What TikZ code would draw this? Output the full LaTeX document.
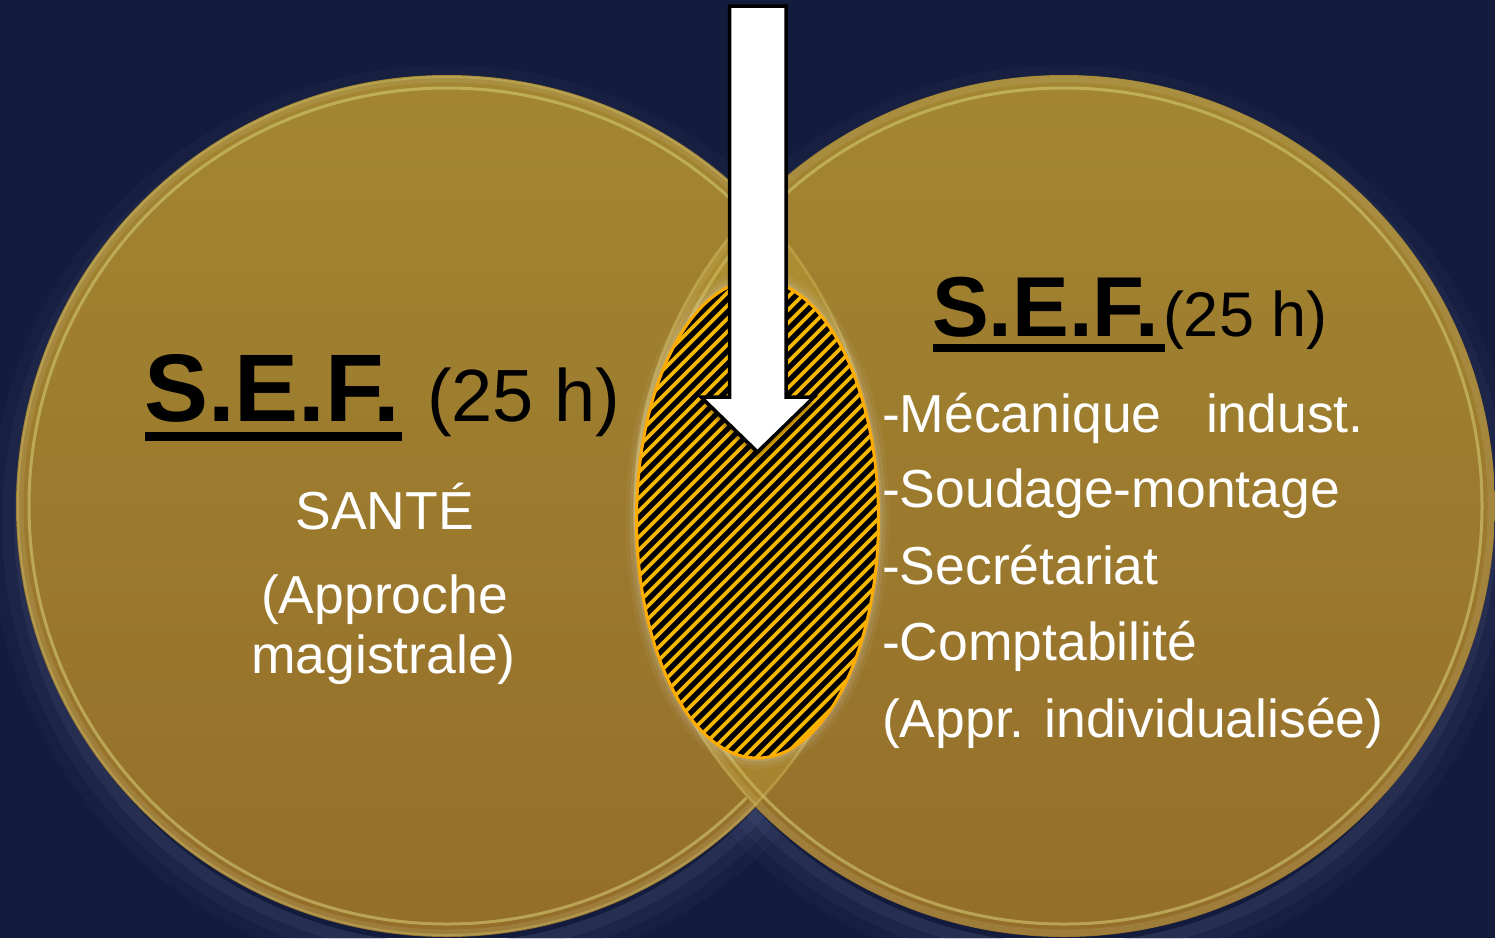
\documentclass[tikz,border=0pt]{standalone}
\usepackage{fontspec}
\setmainfont{Liberation Sans}
\usetikzlibrary{calc}
\definecolor{navy}{RGB}{19,28,60}
\definecolor{goldtop}{RGB}{163,134,49}
\definecolor{goldbot}{RGB}{148,110,42}
\definecolor{rimhi}{RGB}{210,200,115}
\definecolor{halo}{RGB}{85,98,140}
\definecolor{stripe}{RGB}{245,182,0}
\definecolor{ellrim}{RGB}{255,172,0}
\definecolor{lens}{RGB}{205,170,60}
\tikzset{
  lbl/.style={inner sep=0pt, outer sep=0pt},
  wtxt/.style={lbl, text=white, font=\fontsize{53.5}{60}\selectfont},
  btxt/.style={lbl, text=black},
  disc/.style={top color=goldtop, bottom color=goldbot},
  ulin/.style={fill=black}
}
\begin{document}
\begin{tikzpicture}[x=1pt,y=-1pt]
\useasboundingbox (0,0) rectangle (1495,938);
\fill[navy] (0,0) rectangle (1495,938);

% soft halos round the lower part of the two discs
\foreach \cx in {447,1064} {
  \foreach \w/\o in {36/0.07,24/0.10,12/0.16} {
    \draw[halo, line width=\w pt, opacity=\o] (\cx,522) circle[radius={431pt+\w pt/2-10pt}];
  }
}

% left disc
\shade[disc] (447,506) circle[radius=431pt];
\draw[goldtop!70!white, line width=7pt, opacity=0.25] (447,506) circle[radius=427pt];
\draw[rimhi, line width=3pt, opacity=0.6] (447,506) circle[radius=418pt];

% right disc
\shade[disc] (1064,506) circle[radius=431pt];
\draw[goldtop!70!white, line width=7pt, opacity=0.25] (1064,506) circle[radius=427pt];
\draw[rimhi, line width=3pt, opacity=0.6] (1064,506) circle[radius=418pt];

% lighter overlap (lens) with the hidden rims showing through
\begin{scope}
  \clip (447,506) circle[radius=431pt];
  \fill[lens, opacity=0.3] (1064,506) circle[radius=431pt];
  \draw[rimhi, line width=2pt, opacity=0.35] (1064,506) circle[radius=429pt];
  \draw[rimhi, line width=2pt, opacity=0.35] (447,506) circle[radius=429pt];
\end{scope}

% glow round the hatched ellipse
\foreach \w/\o in {22/0.06,14/0.09,7/0.14} {
  \draw[white!80!gray, line width=\w pt, opacity=\o] (757.5,519) ellipse[x radius=121pt, y radius=239pt];
}
% hatched ellipse
\begin{scope}
  \clip (757.5,519) ellipse[x radius=121pt, y radius=239pt];
  \fill[black] (600,250) rectangle (900,780);
  \foreach \c in {890,903,...,1670} {
    \draw[stripe, line width=3.6pt] ({\c-200},200) -- ({\c-900},900);
  }
\end{scope}
\draw[ellrim, line width=3pt] (757.5,519) ellipse[x radius=121pt, y radius=239pt];

% arrow shadow
\foreach \s/\o in {10/0.10,6/0.14,3/0.18} {
  \fill[black, opacity=\o] (729.5,{6+\s}) -- (786,{6+\s}) -- (786,{397+\s}) -- (814,{397+\s}) -- (757.5,{452+\s}) -- (701,{397+\s}) -- (729.5,{397+\s}) -- cycle;
}
% arrow
\draw[black, line width=3.5pt, fill=white, line join=miter]
  (729.5,6) -- (786,6) -- (786,397) -- (814,397) -- (757.5,452) -- (701,397) -- (729.5,397) -- cycle;

% left texts
\node[btxt, anchor=base west, font=\fontsize{96}{96}\selectfont\bfseries] (sefL) at (144,421) {S.E.F.};
\fill[ulin] ($(sefL.base west)+(1,11)$) rectangle ($(sefL.base west)+(258,20)$);
\node[btxt, anchor=base west, font=\fontsize{74}{74}\selectfont] (hL) at (427,421) {(25 h)};
\node[wtxt, anchor=base] (sante) at (384.5,529) {SANTÉ};
\node[wtxt, anchor=base] (appr) at (384.5,613) {(Approche};
\node[wtxt, anchor=base] (mag) at (383.5,673) {magistrale)};

% right texts
\node[btxt, anchor=base west, font=\fontsize{85}{85}\selectfont\bfseries] (sefR) at (932,336) {S.E.F.};
\fill[ulin] ($(sefR.base west)+(1,8)$) rectangle ($(sefR.base west)+(233,16)$);
\node[btxt, anchor=base west, font=\fontsize{63}{63}\selectfont] (hR) at (1163,336) {(25 h)};
\node[wtxt, anchor=base west] (l1) at (882,432) {-Mécanique~~~indust.};
\node[wtxt, anchor=base west] (l2) at (882,507) {-Soudage-montage};
\node[wtxt, anchor=base west] (l3) at (882,584) {-Secrétariat};
\node[wtxt, anchor=base west] (l4) at (882,660) {-Comptabilité};
\node[wtxt, anchor=base west] (l5) at (882,737) {(Appr. individualisée)};
\end{tikzpicture}
\end{document}
